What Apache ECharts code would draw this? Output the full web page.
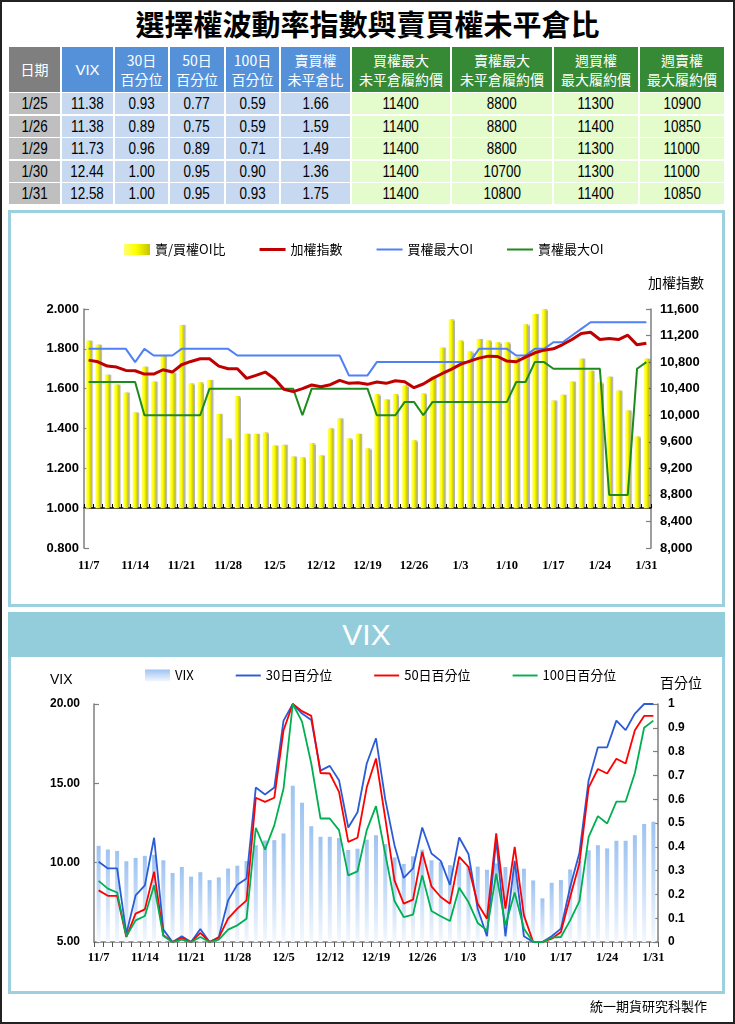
<!DOCTYPE html>
<html><head><meta charset="utf-8">
<script src="https://cdn.jsdelivr.net/npm/echarts@6/dist/echarts.min.js"></script>
<style>
html,body{margin:0;padding:0;background:#fff;}
#page{position:relative;width:735px;height:1024px;overflow:hidden;background:#fff;}
#frame{position:absolute;left:0;top:0;width:735px;height:1024px;box-sizing:border-box;border:2px solid #222;z-index:5;pointer-events:none;}
#title{position:absolute;left:0;top:4px;width:735px;text-align:center;font-family:"Noto Sans CJK TC",sans-serif;font-weight:bold;font-size:29px;line-height:38px;color:#000;}
.cell{position:absolute;display:flex;flex-direction:column;align-items:center;justify-content:center;text-align:center;box-sizing:border-box;}
.num{font-family:"Liberation Sans",Arial,sans-serif;font-size:16px;color:#000;}
.num span{display:inline-block;transform:scaleX(0.84);}
.hd{font-family:"Noto Sans CJK TC",sans-serif;font-size:14px;color:#fff;line-height:19px;}
.panel{position:absolute;box-sizing:border-box;border:3px solid #9dd0df;background:#fff;z-index:1;}
#vixhead{position:absolute;left:8px;top:612px;width:717px;height:45px;background:#93cddc;z-index:1;color:#fff;font-family:"Liberation Sans",Arial,sans-serif;font-size:30px;line-height:45px;text-align:center;}
#chart{position:absolute;left:0;top:0;width:735px;height:1024px;z-index:2;}
#foot{position:absolute;left:590px;top:996px;font-family:"Noto Sans CJK TC",sans-serif;font-size:13px;color:#000;z-index:3;}
</style></head>
<body><div id="page">
<div id="title">選擇權波動率指數與賣買權未平倉比</div>
<div id="table"></div>
<div class="panel" style="left:8px;top:210px;width:717px;height:397px;"></div>
<div class="panel" style="left:8px;top:612px;width:717px;height:382px;"></div>
<div id="vixhead">VIX</div>
<div id="chart"></div>
<div id="foot">統一期貨研究科製作</div>
<div id="frame"></div>
</div>
<script>
// ---------- data ----------
const dates = ['11/7','11/8','11/9','11/10','11/13','11/14','11/15','11/16','11/17','11/20','11/21','11/22','11/23','11/24','11/27','11/28','11/29','11/30','12/1','12/4','12/5','12/6','12/7','12/8','12/11','12/12','12/13','12/14','12/15','12/18','12/19','12/20','12/21','12/22','12/25','12/26','12/27','12/28','12/29','1/2','1/3','1/4','1/5','1/8','1/9','1/10','1/11','1/12','1/15','1/16','1/17','1/18','1/19','1/22','1/23','1/24','1/25','1/26','1/29','1/30','1/31'];
const oiRatio = [1.84,1.82,1.67,1.62,1.58,1.48,1.71,1.635,1.765,1.68,1.92,1.627,1.632,1.644,1.473,1.35,1.563,1.373,1.373,1.38,1.314,1.318,1.259,1.256,1.327,1.264,1.40,1.45,1.35,1.373,1.30,1.573,1.545,1.573,1.618,1.341,1.576,1.66,1.805,1.948,1.842,1.787,1.85,1.842,1.833,1.833,1.759,1.924,1.975,2.0,1.54,1.569,1.635,1.75,1.69,1.632,1.66,1.59,1.49,1.36,1.75];
const taiex = [10830,10805,10740,10725,10675,10670,10620,10620,10685,10650,10760,10810,10850,10850,10740,10700,10700,10555,10600,10650,10550,10390,10355,10400,10455,10430,10460,10525,10480,10490,10465,10500,10480,10520,10505,10415,10470,10555,10625,10690,10765,10815,10860,10890,10885,10815,10805,10875,10940,10980,11000,11065,11140,11230,11250,11140,11155,11140,11205,11060,11085];
const callMaxOI = [11000,11000,11000,11000,11000,10800,11000,10900,10900,10900,11000,11000,11000,11000,11000,11000,10900,10900,10900,10900,10900,10900,10900,10900,10900,10900,10900,10900,10600,10600,10600,10800,10800,10800,10800,10800,10800,10800,10800,10800,10800,10800,11000,11000,11000,11000,10900,10900,11000,11000,11100,11100,11200,11300,11400,11400,11400,11400,11400,11400,11400];
const putMaxOI = [10500,10500,10500,10500,10500,10500,10000,10000,10000,10000,10000,10000,10000,10400,10400,10400,10400,10400,10400,10400,10400,10400,10400,10000,10400,10400,10400,10400,10400,10400,10400,10000,10000,10000,10200,10200,10000,10200,10200,10200,10200,10200,10200,10200,10200,10200,10500,10500,10800,10800,10700,10700,10700,10700,10700,10700,8800,8800,8800,10700,10800];
const vix = [11.06,10.83,10.74,10.09,10.30,10.43,10.5,10.15,9.35,9.73,9.12,9.40,8.90,9.07,9.63,9.81,10.10,11.1,11.4,11.42,11.84,14.85,13.78,12.30,11.63,11.63,11.55,10.80,10.88,11.45,11.73,11.17,10.33,9.92,10.4,10.82,10.15,10.05,9.84,10.0,9.8,9.75,9.55,9.95,9.72,9.65,9.62,8.88,7.75,8.73,8.9,9.57,10.11,10.78,11.1,10.9,11.38,11.38,11.73,12.44,12.58];
const pct30 = [0.337,0.309,0.309,0.035,0.196,0.238,0.438,0.052,0,0.024,0,0.055,0,0.021,0.175,0.241,0.267,0.649,0.62,0.649,0.93,1.0,0.96,0.933,0.72,0.74,0.68,0.481,0.545,0.75,0.856,0.6,0.407,0.269,0.309,0.481,0.372,0.341,0.24,0.439,0.37,0.14,0.024,0.43,0.024,0.341,0.024,0,0,0.024,0.056,0.231,0.374,0.68,0.818,0.818,0.93,0.89,0.96,1.0,1.0];
const pct50 = [0.217,0.194,0.194,0.021,0.119,0.137,0.295,0.028,0,0.018,0,0.038,0,0.018,0.098,0.14,0.175,0.606,0.589,0.606,0.89,1.0,0.97,0.95,0.71,0.708,0.631,0.421,0.438,0.65,0.771,0.52,0.259,0.161,0.178,0.379,0.234,0.189,0.161,0.358,0.316,0.161,0.098,0.456,0.14,0.4,0.112,0,0,0.014,0.042,0.189,0.33,0.649,0.727,0.708,0.77,0.75,0.89,0.95,0.95];
const pct100 = [0.257,0.224,0.208,0.024,0.091,0.109,0.238,0.025,0,0.01,0,0.021,0,0.01,0.052,0.07,0.098,0.48,0.388,0.49,0.645,1.0,0.926,0.75,0.519,0.519,0.47,0.28,0.297,0.47,0.571,0.37,0.172,0.105,0.115,0.28,0.13,0.108,0.088,0.228,0.168,0.08,0.049,0.287,0.07,0.208,0.056,0,0,0.018,0.021,0.091,0.172,0.442,0.529,0.498,0.59,0.59,0.71,0.90,0.93];

// table data
const tHeaders = [['日期'],['VIX'],['30日','百分位'],['50日','百分位'],['100日','百分位'],['賣買權','未平倉比'],['買權最大','未平倉履約價'],['賣權最大','未平倉履約價'],['週買權','最大履約價'],['週賣權','最大履約價']];
const tDates = ['1/25','1/26','1/29','1/30','1/31'];
const tVix = ['11.38','11.38','11.73','12.44','12.58'];
const tP30 = ['0.93','0.89','0.96','1.00','1.00'];
const tP50 = ['0.77','0.75','0.89','0.95','0.95'];
const tP100 = ['0.59','0.59','0.71','0.90','0.93'];
const tRatio = ['1.66','1.59','1.49','1.36','1.75'];
const tCallMax = ['11400','11400','11400','11400','11400'];
const tPutMax = ['8800','8800','8800','10700','10800'];
const tWkCall = ['11300','11400','11300','11300','11400'];
const tWkPut = ['10900','10850','11000','11000','10850'];

// ---------- table ----------
(function(){
  const cols = [tDates,tVix,tP30,tP50,tP100,tRatio,tCallMax,tPutMax,tWkCall,tWkPut];
  const edges = [9,62,115,170,226,281,352,452,554,640,726];
  const hdBg = ['#7f7f7f','#5591d9','#5591d9','#5591d9','#5591d9','#5591d9','#368a36','#368a36','#368a36','#368a36'];
  const cBg = ['#bfbfbf','#c6d9f1','#c6d9f1','#c6d9f1','#c6d9f1','#c6d9f1','#e4fbcc','#e4fbcc','#e4fbcc','#e4fbcc'];
  const rowTops = [93,116,138,161,183];
  const t = document.getElementById('table');
  let html = '';
  for (let c=0;c<10;c++){
    const l = edges[c], w = edges[c+1]-edges[c]-2;
    html += `<div class="cell hd" style="left:${l}px;top:47px;width:${w}px;height:45px;background:${hdBg[c]};${c===1?'font-family:Liberation Sans,Arial,sans-serif;font-size:15px;':''}">${tHeaders[c].map(s=>'<div>'+s+'</div>').join('')}</div>`;
    for (let r=0;r<5;r++){
      html += `<div class="cell num" style="left:${l}px;top:${rowTops[r]}px;width:${w}px;height:21px;background:${cBg[c]};"><span>${cols[c][r]}</span></div>`;
    }
  }
  t.innerHTML = html;
})();

// ---------- chart ----------
const numFont = '"Liberation Sans", Arial, sans-serif';
const cjk = '"Noto Sans CJK TC", sans-serif';
const serif = '"Liberation Serif", "Times New Roman", serif';
const chart = echarts.init(document.getElementById('chart'), null, {width:735, height:1024});
const base1 = dates.map(()=>1);
const base5 = dates.map(()=>5);
const axisLbl = (size, margin, fmt) => ({fontFamily:numFont, fontWeight:'bold', fontSize:size, color:'#000', margin:margin, formatter:fmt});
const grayLine = {show:true, lineStyle:{color:'#7f7f7f', width:1.5}};
const inTick = {show:true, inside:true, length:5, lineStyle:{color:'#7f7f7f', width:1.2}};
const xLbl = {interval:4, fontFamily:serif, fontWeight:'bold', fontSize:12.5, color:'#000'};
const thin2 = 'path://M0,0H26V2H0Z';
const thin3 = 'path://M0,0H26V3H0Z';

const option = {
  animation:false,
  textStyle:{fontFamily:cjk},
  grid:[
    {left:84, top:309, width:567, height:239, outerBoundsMode:'none'},
    {left:94, top:704, width:564, height:238, outerBoundsMode:'none'}
  ],
  legend:[
    {data:[{name:'賣/買權OI比', icon:'rect'},{name:'加權指數', icon:thin3},{name:'買權最大OI', icon:thin2},{name:'賣權最大OI', icon:thin2}],
     left:119, top:238, itemWidth:26, itemHeight:11, itemGap:34,
     textStyle:{fontFamily:cjk, fontSize:13, color:'#000'}},
    {data:[{name:'VIX', icon:'rect'},{name:'30日百分位', icon:thin2},{name:'50日百分位', icon:thin2},{name:'100日百分位', icon:thin2}],
     left:140, top:664, itemWidth:25, itemHeight:12, itemGap:42,
     textStyle:{fontFamily:cjk, fontSize:13, color:'#000'}}
  ],
  xAxis:[
    {gridIndex:0, type:'category', data:dates, position:'bottom', axisLine:{show:false}, axisTick:{show:false},
     axisLabel:Object.assign({margin:11}, xLbl)},
    {gridIndex:0, type:'category', data:dates, position:'bottom', offset:-40,
     axisLine:{show:true, lineStyle:{color:'#000', width:1.5}},
     axisTick:{show:true, inside:true, interval:0, length:4, lineStyle:{color:'#000', width:1}}, axisLabel:{show:false}},
    {gridIndex:1, type:'category', data:dates, position:'bottom',
     axisLine:grayLine, axisTick:{show:true, interval:0, length:5, lineStyle:{color:'#555', width:1}},
     axisLabel:Object.assign({margin:9}, xLbl)}
  ],
  yAxis:[
    {gridIndex:0, type:'value', position:'left', min:0.8, max:2.0, interval:0.2, splitLine:{show:false},
     axisLine:grayLine, axisTick:inTick, axisLabel:axisLbl(13, 5, v=>v.toFixed(3))},
    {gridIndex:0, type:'value', position:'right', min:8000, max:11600, interval:400, splitLine:{show:false},
     axisLine:grayLine, axisTick:inTick, axisLabel:axisLbl(13, 9, v=>v.toLocaleString('en-US'))},
    {gridIndex:1, type:'value', position:'left', min:5, max:20, interval:5, splitLine:{show:false},
     axisLine:grayLine, axisTick:inTick, axisLabel:axisLbl(12, 14, v=>v.toFixed(2))},
    {gridIndex:1, type:'value', position:'right', min:0, max:1, interval:0.1, splitLine:{show:false},
     axisLine:grayLine, axisTick:inTick, axisLabel:axisLbl(12, 10, v=>String(Math.round(v*10)/10))}
  ],
  graphic:[
    {type:'text', left:648, top:276, style:{text:'加權指數', font:'14px "Noto Sans CJK TC"', fill:'#000'}},
    {type:'text', left:50, top:673, style:{text:'VIX', font:'14px "Liberation Sans"', fill:'#000'}},
    {type:'text', left:660, top:676, style:{text:'百分位', font:'14px "Noto Sans CJK TC"', fill:'#000'}}
  ],
  series:[
    {type:'bar', xAxisIndex:0, yAxisIndex:0, stack:'oi', data:base1, barWidth:5, silent:true,
     itemStyle:{color:'rgba(0,0,0,0)'}},
    {name:'賣/買權OI比', type:'bar', xAxisIndex:0, yAxisIndex:0, stack:'oi', barWidth:5,
     data:oiRatio.map(v=>+(v-1).toFixed(4)),
     itemStyle:{color:new echarts.graphic.LinearGradient(0,0,1,0,[{offset:0,color:'#ffff70'},{offset:0.45,color:'#ffff00'},{offset:1,color:'#c4c400'}]),
       shadowColor:'rgba(0,0,0,0.3)', shadowOffsetX:1.5, shadowBlur:1}},
    {name:'加權指數', type:'line', xAxisIndex:0, yAxisIndex:1, data:taiex, symbol:'none', z:4,
     lineStyle:{color:'#c00000', width:3}, itemStyle:{color:'#c00000'}},
    {name:'買權最大OI', type:'line', xAxisIndex:0, yAxisIndex:1, data:callMaxOI, symbol:'none', z:3,
     lineStyle:{color:'#4f80f5', width:2}, itemStyle:{color:'#4f80f5'}},
    {name:'賣權最大OI', type:'line', xAxisIndex:0, yAxisIndex:1, data:putMaxOI, symbol:'none', z:3,
     lineStyle:{color:'#1d8a1d', width:2}, itemStyle:{color:'#1d8a1d'}},

    {type:'bar', xAxisIndex:2, yAxisIndex:2, stack:'vx', data:base5, barWidth:4, silent:true,
     itemStyle:{color:'rgba(0,0,0,0)'}},
    {name:'VIX', type:'bar', xAxisIndex:2, yAxisIndex:2, stack:'vx', barWidth:4,
     data:vix.map(v=>+(v-5).toFixed(3)),
     itemStyle:{color:new echarts.graphic.LinearGradient(0,0,0,1,[{offset:0,color:'#9dc3f1'},{offset:1,color:'#f4f8fe'}])}},
    {name:'30日百分位', type:'line', xAxisIndex:2, yAxisIndex:3, data:pct30, symbol:'none',
     lineStyle:{color:'#2b5bd6', width:1.8}, itemStyle:{color:'#2b5bd6'}},
    {name:'50日百分位', type:'line', xAxisIndex:2, yAxisIndex:3, data:pct50, symbol:'none',
     lineStyle:{color:'#ff0000', width:1.8}, itemStyle:{color:'#ff0000'}},
    {name:'100日百分位', type:'line', xAxisIndex:2, yAxisIndex:3, data:pct100, symbol:'none',
     lineStyle:{color:'#00b050', width:1.8}, itemStyle:{color:'#00b050'}}
  ]
};
chart.setOption(option);
</script>
</body></html>
